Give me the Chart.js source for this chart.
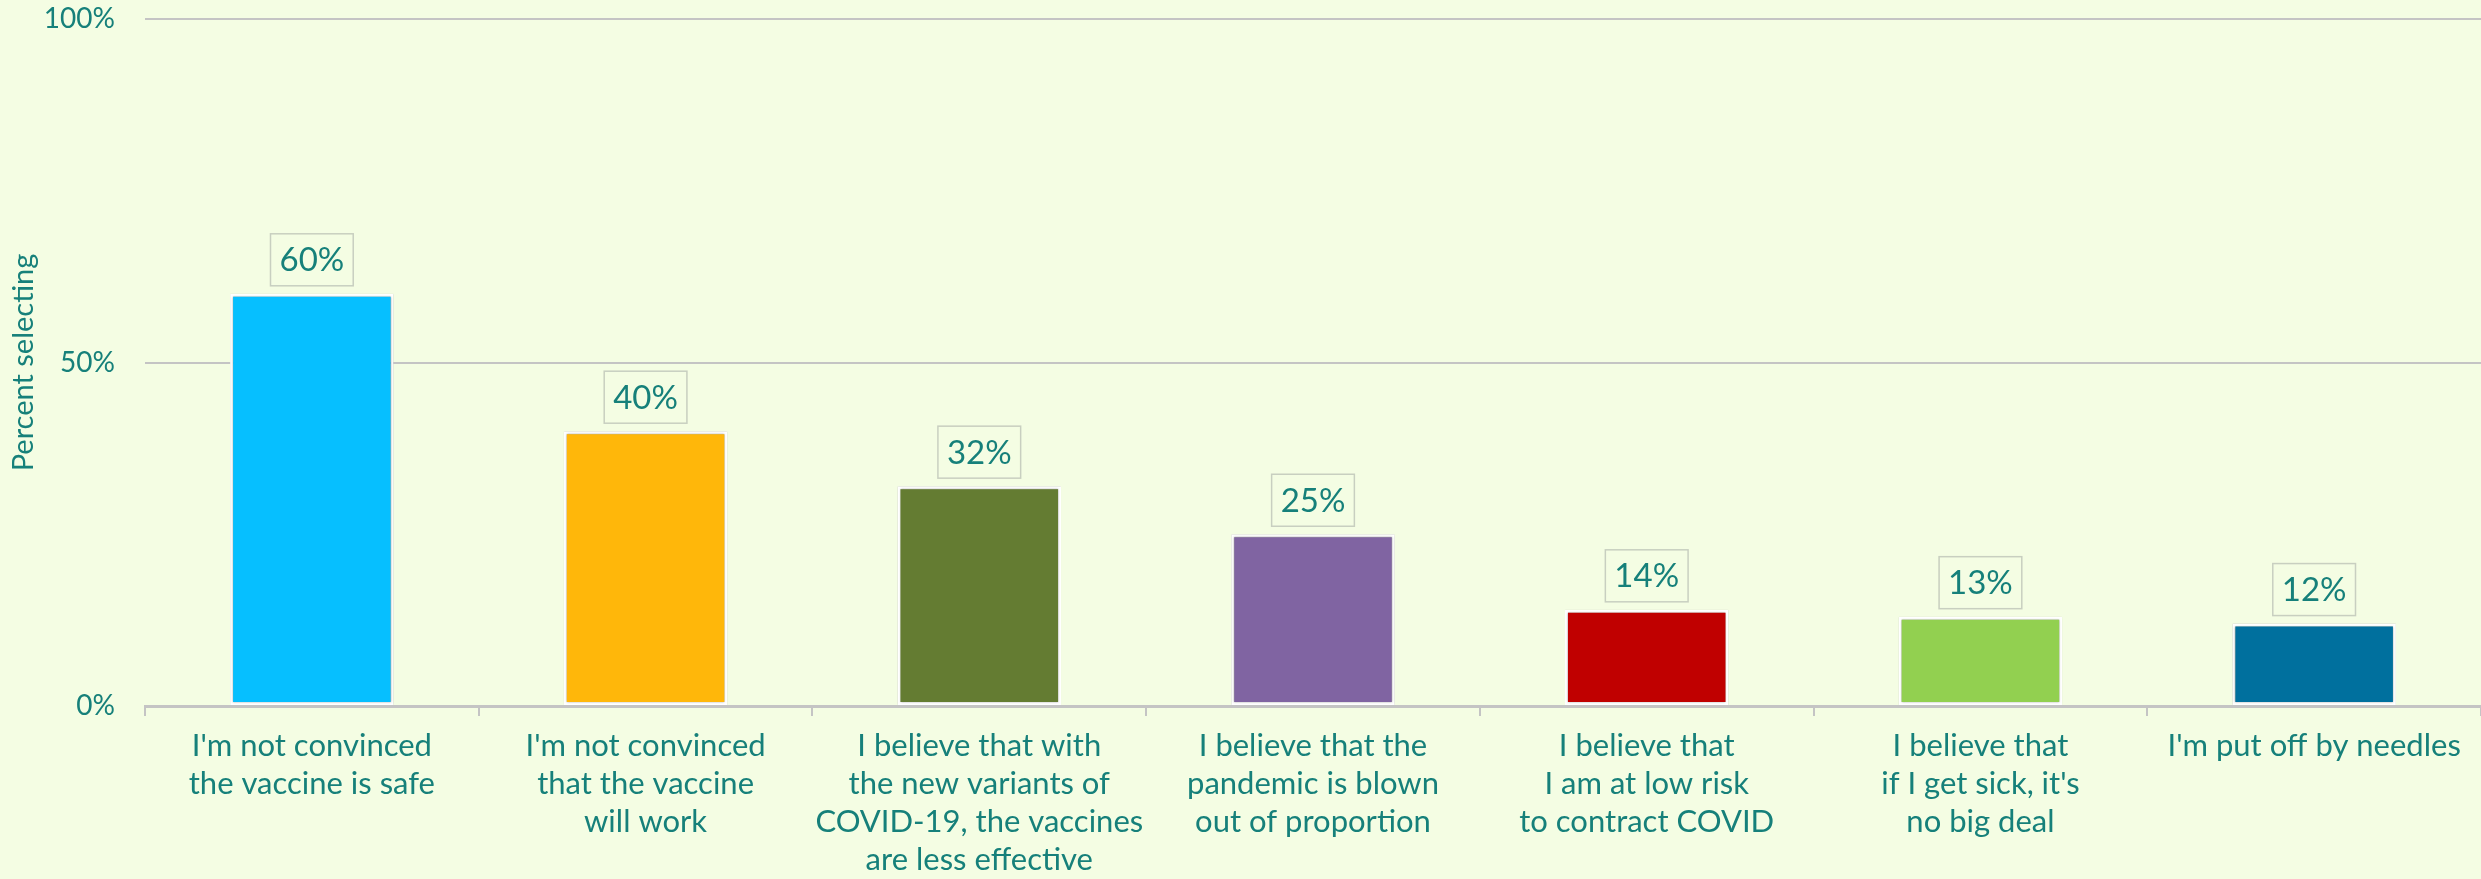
<!DOCTYPE html>
<html>
<head>
<meta charset="utf-8">
<script src="https://cdn.jsdelivr.net/npm/chart.js@4"></script>
<style>
  html, body { margin: 0; padding: 0; background: #f4fde3; }
  #wrap { width: 2481px; height: 879px; }
</style>
</head>
<body>
<div id="wrap"><canvas id="reasonsChart"></canvas></div>
<script>
const categories = [
  ["I'm not convinced", "the vaccine is safe"],
  ["I'm not convinced", "that the vaccine", "will work"],
  ["I believe that with", "the new variants of", "COVID-19, the vaccines", "are less effective"],
  ["I believe that the", "pandemic is blown", "out of proportion"],
  ["I believe that", "I am at low risk", "to contract COVID"],
  ["I believe that", "if I get sick, it's", "no big deal"],
  ["I'm put off by needles"]
];
const percentSelecting = [60, 40, 32, 25, 14, 13, 12];
const barColors = ['#06bfff', '#ffb70a', '#647c32', '#8064a2', '#c00000', '#92d050', '#00709e'];
const yTicks = [0, 50, 100];

const textColor = '#16807a';
const gridColor = '#c4c4c4';
const fontFamily = 'Lato, "Open Sans", sans-serif';

// thin grey outline round the white bar borders + boxed value labels
const barDecor = {
  id: 'barDecor',
  beforeDatasetsDraw(chart) {
    const ctx = chart.ctx;
    ctx.save();
    ctx.shadowColor = 'rgba(0, 0, 0, 0.35)';
    ctx.shadowBlur = 2;
  },
  afterDatasetsDraw(chart) {
    const ctx = chart.ctx;
    ctx.restore();
    const meta = chart.getDatasetMeta(0);
    ctx.save();
    ctx.font = '33px ' + fontFamily;
    ctx.textAlign = 'center';
    ctx.textBaseline = 'middle';
    meta.data.forEach((bar, i) => {
      const txt = percentSelecting[i] + '%';
      const w = ctx.measureText(txt).width + 18;
      const h = 52;
      const bottom = bar.y - 8;
      ctx.fillStyle = '#f4fde3';
      ctx.fillRect(bar.x - w / 2, bottom - h, w, h);
      ctx.strokeStyle = '#c8cfc0';
      ctx.lineWidth = 1.5;
      ctx.strokeRect(bar.x - w / 2, bottom - h, w, h);
      ctx.fillStyle = textColor;
      ctx.fillText(txt, bar.x, bottom - h / 2 + 1);
    });
    ctx.restore();
  }
};

const ctx = document.getElementById('reasonsChart').getContext('2d');
new Chart(ctx, {
  type: 'bar',
  data: {
    labels: categories,
    datasets: [{
      data: percentSelecting,
      backgroundColor: barColors,
      borderColor: '#ffffff',
      borderWidth: 3,
      borderSkipped: false,
      barPercentage: 0.49,
      categoryPercentage: 1
    }]
  },
  options: {
    responsive: true,
    maintainAspectRatio: false,
    animation: false,
    layout: { padding: { top: 19, right: 0, left: 0, bottom: 0 } },
    plugins: {
      legend: { display: false },
      tooltip: { enabled: false }
    },
    scales: {
      x: {
        afterFit(scale) { scale.height = 173; },
        grid: {
          display: true,
          drawOnChartArea: false,
          drawTicks: true,
          tickLength: 10,
          color: gridColor,
          lineWidth: 2
        },
        border: { display: true, color: gridColor, width: 3 },
        ticks: {
          color: textColor,
          font: { family: fontFamily, size: 31, lineHeight: 1.23 },
          padding: 11,
          maxRotation: 0,
          autoSkip: false
        }
      },
      y: {
        min: 0,
        max: 100,
        afterFit(scale) {
          scale.width = 145;
          scale.paddingTop = 0;
          scale.paddingBottom = 0;
        },
        afterBuildTicks(scale) { scale.ticks = yTicks.map(v => ({ value: v })); },
        grid: { color: gridColor, lineWidth: 2, drawTicks: false },
        border: { display: false },
        ticks: {
          color: textColor,
          font: { family: fontFamily, size: 28 },
          padding: 30,
          callback: v => v + '%'
        },
        title: {
          display: true,
          text: 'Percent selecting',
          color: textColor,
          font: { family: fontFamily, size: 29 },
          padding: { top: 6, bottom: 0 }
        }
      }
    }
  },
  plugins: [barDecor]
});
</script>
</body>
</html>
